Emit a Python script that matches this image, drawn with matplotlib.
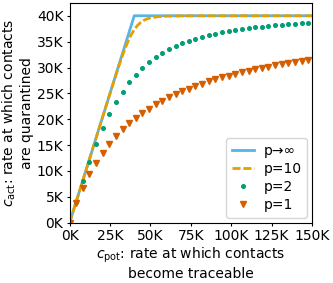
import matplotlib
matplotlib.use('Agg')
import matplotlib.pyplot as plt
from matplotlib.ticker import FuncFormatter

# values in thousands
x_inf = [0, 40, 150]
y_inf = [0, 40, 40]

x_p10 = [0, 10, 20, 25, 30, 32, 34, 36, 38, 40, 42, 44, 46, 48, 50, 55, 60, 70, 80, 150]
y_p10 = [0, 10, 20.0, 24.98, 29.84, 31.68, 33.39, 34.94, 36.26, 37.32, 38.13, 38.72,
         39.13, 39.41, 39.59, 39.84, 39.93, 39.985, 39.996, 40]

x_pts = [0, 4.1, 8.2, 12.3, 16.4, 20.5, 24.6, 28.7, 32.8, 36.9, 41.0, 45.1, 49.2,
         53.3, 57.4, 61.5, 65.6, 69.7, 73.8, 77.9, 82.0, 86.1, 90.2, 94.3, 98.4,
         102.5, 106.6, 110.7, 114.8, 118.9, 123.0, 127.1, 131.2, 135.3, 139.4,
         143.5, 147.6]
y_p2 = [0, 4.08, 8.03, 11.76, 15.17, 18.24, 20.95, 23.32, 25.36, 27.12, 28.63,
        29.93, 31.04, 31.99, 32.82, 33.53, 34.15, 34.69, 35.17, 35.58, 35.95,
        36.28, 36.57, 36.82, 37.06, 37.26, 37.45, 37.62, 37.77, 37.91, 38.04,
        38.15, 38.26, 38.36, 38.45, 38.53, 38.61]
y_p1 = [0, 3.72, 6.80, 9.41, 11.63, 13.55, 15.23, 16.71, 18.02, 19.19, 20.25,
        21.20, 22.06, 22.85, 23.57, 24.24, 24.85, 25.41, 25.94, 26.43, 26.89,
        27.31, 27.71, 28.09, 28.44, 28.77, 29.09, 29.38, 29.66, 29.93, 30.18,
        30.43, 30.65, 30.87, 31.08, 31.28, 31.47]

plt.rcParams['font.size'] = 10

fig = plt.figure(figsize=(3.33, 2.83), dpi=100)
ax = fig.add_axes([0.209, 0.213, 0.728, 0.777])

ax.plot([v * 1000 for v in x_inf], [v * 1000 for v in y_inf], color='#56B4E9', lw=2, label='p→∞')
ax.plot([v * 1000 for v in x_p10], [v * 1000 for v in y_p10], color='#E69F00', lw=2,
        dashes=(2.9, 1.0), label='p=10')
ax.plot([v * 1000 for v in x_pts], [v * 1000 for v in y_p2], color='#009E73', ls='none',
        marker='o', ms=2.6, label='p=2')
ax.plot([v * 1000 for v in x_pts], [v * 1000 for v in y_p1], color='#D55E00', ls='none',
        marker='v', ms=3.8, label='p=1')

ax.set_xlim(0, 150000)
ax.set_ylim(0, 42500)
ax.set_xticks([0, 25000, 50000, 75000, 100000, 125000, 150000])
ax.set_yticks(range(0, 40001, 5000))
kfmt = FuncFormatter(lambda v, pos: '%dK' % round(v / 1000))
ax.xaxis.set_major_formatter(kfmt)
ax.yaxis.set_major_formatter(kfmt)
ax.tick_params(length=2.5, pad=2)

ax.set_xlabel('$c_\\mathrm{pot}$: rate at which contacts\nbecome traceable', labelpad=2)
ax.set_ylabel('$c_\\mathrm{act}$: rate at which contacts\nare quarantined', labelpad=2)
ax.legend(loc='lower right', fontsize=10, handlelength=1.6, handletextpad=0.7,
          borderaxespad=0.35, labelspacing=0.3)

fig.savefig('out.png', dpi=100)
